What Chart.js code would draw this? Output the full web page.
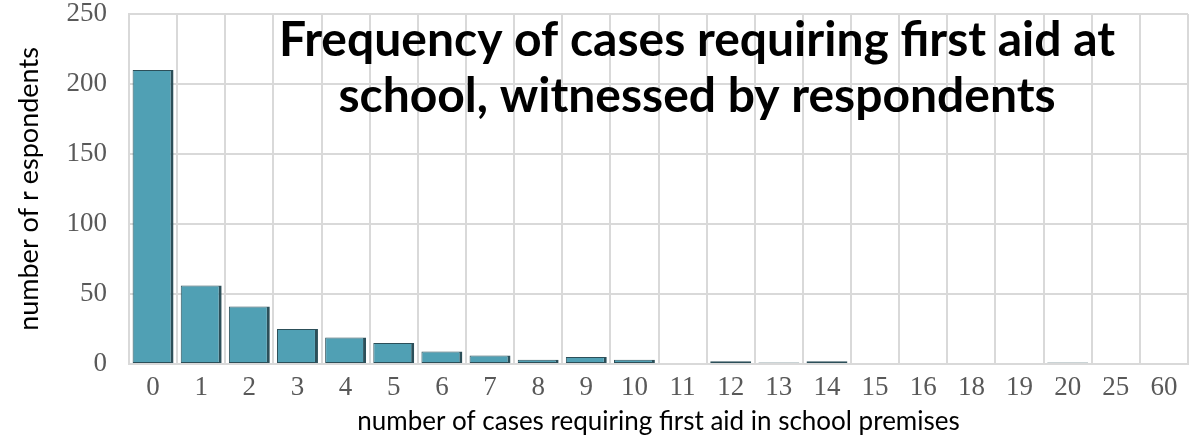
<!DOCTYPE html>
<html>
<head>
<meta charset="utf-8">
<script src="https://cdn.jsdelivr.net/npm/chart.js@4"></script>
<style>
  body { margin: 0; background: #fff; }
  #wrap { width: 1200px; height: 440px; }
</style>
</head>
<body>
<div id="wrap"><canvas id="first-aid-chart"></canvas></div>
<script>
// categories (number of cases) and counts of respondents
const cases = ['0','1','2','3','4','5','6','7','8','9','10','11','12','13','14','15','16','18','19','20','25','60'];
const respondents = [210, 56, 41, 25, 19, 15, 9, 6, 3, 5, 3, 0, 2, 1, 2, 0, 0, 0, 0, 1, 0, 0];
const yTicks = [0, 50, 100, 150, 200, 250];
const titleLines = ['Frequency of cases requiring first aid at', 'school, witnessed by respondents'];

// title sits inside the plot area, on top of the grid
const overlayTitle = {
    id: 'overlayTitle',
    afterDraw(chart) {
        const ctx = chart.ctx;
        ctx.save();
        ctx.fillStyle = '#000';
        ctx.font = 'bold 48px Lato';
        ctx.textAlign = 'center';
        ctx.textBaseline = 'alphabetic';
        ctx.fillText(titleLines[0], 697, 56);
        ctx.fillText(titleLines[1], 697, 112);
        ctx.restore();
    }
};

function firstAidChart(){
    const el = document.getElementById('first-aid-chart');
    new Chart(el, {
        type: 'bar',
        data: {
            labels: cases,
            datasets: [{
                label: 'respondents',
                data: respondents,
                backgroundColor: '#50a0b4',
                borderColor: '#2c4f59',
                borderWidth: {top: 1, left: 1, right: 3, bottom: 1},
                borderSkipped: false,
                categoryPercentage: 1,
                barPercentage: 0.85
            }]
        },
        plugins: [overlayTitle],
        options: {
            responsive: true,
            maintainAspectRatio: false,
            animation: false,
            layout: { padding: { top: 14, right: 12, left: 0, bottom: 0 } },
            plugins: {
                legend: { display: false },
                tooltip: { enabled: false }
            },
            scales: {
                x: {
                    afterFit(scale) { scale.height = 76; },
                    grid: { color: '#d9d9d9', lineWidth: 2, drawTicks: false, offset: true },
                    border: { color: '#d9d9d9', width: 2 },
                    ticks: {
                        color: '#595959',
                        font: { family: 'Liberation Serif', size: 27 },
                        padding: 8,
                        maxRotation: 0,
                        autoSkip: false
                    },
                    title: {
                        display: true,
                        text: 'number of cases requiring first aid in school premises',
                        color: '#000',
                        font: { family: 'Lato', size: 26 },
                        padding: { top: 0, bottom: 3 }
                    }
                },
                y: {
                    min: 0,
                    max: 250,
                    afterFit(scale) {
                        scale.width = 129;
                        scale.paddingTop = 0;
                        scale.paddingBottom = 0;
                    },
                    afterBuildTicks(scale) { scale.ticks = yTicks.map(v => ({ value: v })); },
                    grid: { color: '#d9d9d9', lineWidth: 2, drawTicks: false },
                    border: { color: '#d9d9d9', width: 2 },
                    ticks: {
                        color: '#595959',
                        font: { family: 'Liberation Serif', size: 27 },
                        padding: 22
                    },
                    title: {
                        display: true,
                        text: 'number of r espondents',
                        color: '#000',
                        font: { family: 'Lato', size: 27 },
                        padding: { top: 13, bottom: 0 }
                    }
                }
            }
        }
    });
}firstAidChart();
</script>
</body>
</html>
